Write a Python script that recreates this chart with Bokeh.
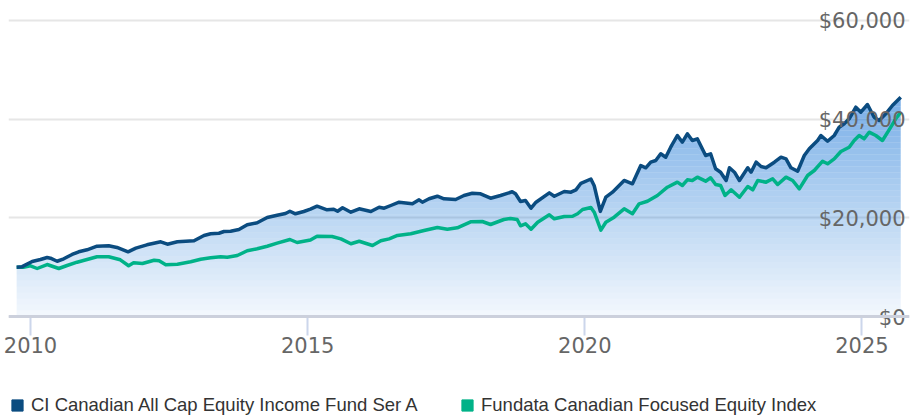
import numpy as np
from bokeh.plotting import figure
from bokeh.layouts import column
from bokeh.models import (ColumnDataSource, FixedTicker, Grid, Legend, LegendItem, Span)
from bokeh.core.properties import value
from bokeh.embed import file_html
from bokeh.resources import INLINE

# ---------------- data ----------------
fund_name = "CI Canadian All Cap Equity Income Fund Ser A"
index_name = "Fundata Canadian Focused Equity Index"

fund_t = [2009.75, 2009.85, 2010.03, 2010.18, 2010.30, 2010.36, 2010.48, 2010.60, 2010.75, 2010.87,
          2011.02, 2011.20, 2011.41, 2011.56, 2011.76, 2011.90, 2012.10, 2012.35, 2012.47, 2012.65,
          2012.95, 2013.13, 2013.25, 2013.40, 2013.49, 2013.61, 2013.76, 2013.91, 2014.09, 2014.27,
          2014.45, 2014.60, 2014.68, 2014.78, 2014.93, 2015.05, 2015.17, 2015.35, 2015.47, 2015.54,
          2015.63, 2015.78, 2015.93, 2016.14, 2016.29, 2016.38, 2016.50, 2016.65, 2016.89, 2017.01,
          2017.07, 2017.19, 2017.34, 2017.46, 2017.67, 2017.82, 2017.97, 2018.12, 2018.30, 2018.48,
          2018.69, 2018.75, 2018.84, 2018.93, 2019.03, 2019.12, 2019.36, 2019.45, 2019.63, 2019.75,
          2019.84, 2019.93, 2020.11, 2020.17, 2020.28, 2020.38, 2020.50, 2020.71, 2020.86, 2021.01,
          2021.10, 2021.19, 2021.28, 2021.37, 2021.46, 2021.55, 2021.67, 2021.76, 2021.85, 2021.94,
          2022.03, 2022.18, 2022.27, 2022.36, 2022.45, 2022.55, 2022.61, 2022.70, 2022.79, 2022.94,
          2023.00, 2023.09, 2023.18, 2023.27, 2023.42, 2023.54, 2023.63, 2023.72, 2023.84, 2023.96,
          2024.05, 2024.20, 2024.26, 2024.38, 2024.50, 2024.59, 2024.68, 2024.77, 2024.89, 2024.98,
          2025.10, 2025.22, 2025.31, 2025.43, 2025.55, 2025.70]
fund_v = [10000, 10100, 11150, 11550, 11960, 11820, 11200, 11700, 12570, 13110,
          13520, 14250, 14330, 13990, 13110, 13850, 14530, 15140, 14660, 15140,
          15340, 16420, 16760, 16880, 17230, 17290, 17630, 18590, 18990, 20070,
          20530, 20880, 21340, 20820, 21280, 21750, 22360, 21630, 21750, 21340,
          22030, 21140, 21830, 21280, 22160, 21950, 22500, 23170, 22840, 23650,
          23170, 23860, 24380, 23860, 23720, 24530, 24990, 24870, 23980, 24530,
          25280, 24870, 23310, 23510, 21950, 23170, 25070, 24380, 25340, 25200,
          25680, 27000, 27870, 26500, 21300, 24180, 25200, 27570, 26900, 30610,
          30140, 31280, 31620, 32980, 32290, 34320, 36690, 35330, 37030, 35680,
          36020, 32630, 32980, 29940, 29250, 27570, 30140, 29250, 27570, 30140,
          29250, 31280, 30410, 30140, 31280, 32290, 31960, 30140, 29450, 32630,
          33990, 35680, 36690, 35530, 36690, 38370, 39060, 40070, 42430, 41410,
          42970, 40400, 39730, 41090, 42770, 44450]

index_t = [2009.75, 2009.87, 2010.00, 2010.12, 2010.30, 2010.51, 2010.66, 2010.84, 2011.02, 2011.20,
           2011.41, 2011.62, 2011.77, 2011.86, 2012.02, 2012.23, 2012.32, 2012.44, 2012.65, 2012.89,
           2013.07, 2013.25, 2013.43, 2013.55, 2013.73, 2013.91, 2014.09, 2014.27, 2014.45, 2014.68,
           2014.81, 2015.05, 2015.17, 2015.44, 2015.60, 2015.78, 2015.93, 2016.17, 2016.32, 2016.47,
           2016.62, 2016.86, 2017.10, 2017.34, 2017.52, 2017.70, 2017.94, 2018.15, 2018.30, 2018.54,
           2018.66, 2018.78, 2018.84, 2018.93, 2019.03, 2019.15, 2019.36, 2019.45, 2019.63, 2019.78,
           2019.87, 2019.96, 2020.11, 2020.17, 2020.29, 2020.38, 2020.53, 2020.71, 2020.86, 2020.98,
           2021.13, 2021.31, 2021.49, 2021.67, 2021.76, 2021.85, 2021.94, 2022.03, 2022.18, 2022.27,
           2022.36, 2022.45, 2022.53, 2022.64, 2022.79, 2022.94, 2023.03, 2023.12, 2023.27, 2023.39,
           2023.48, 2023.63, 2023.75, 2023.87, 2024.02, 2024.14, 2024.29, 2024.38, 2024.50, 2024.62,
           2024.77, 2024.86, 2024.95, 2025.04, 2025.13, 2025.25, 2025.37, 2025.49, 2025.61, 2025.70]
index_v = [10000, 10000, 10280, 9730, 10540, 9730, 10340, 11010, 11550, 12100,
           12100, 11490, 10280, 10880, 10740, 11410, 11280, 10480, 10600, 11090,
           11610, 11890, 12100, 12030, 12360, 13320, 13720, 14250, 14860, 15610,
           15000, 15500, 16280, 16220, 15740, 14740, 15260, 14390, 15340, 15740,
           16420, 16760, 17430, 18040, 17700, 17980, 19190, 19260, 18650, 19660,
           19870, 19660, 18390, 18790, 17700, 19110, 20620, 19800, 20270, 20330,
           20820, 21700, 22100, 21140, 17500, 19110, 20130, 21830, 20820, 22840,
           23370, 24530, 26210, 27230, 26550, 27710, 27570, 28240, 27430, 28110,
           26760, 26550, 24530, 25680, 24180, 26350, 25680, 27570, 27230, 27910,
           26760, 28240, 27570, 25880, 28580, 29590, 31480, 30950, 31960, 33450,
           34320, 35680, 36690, 36020, 37360, 36690, 35680, 37840, 40070, 41410]

x_ticks = [2010, 2015, 2020, 2025]
y_ticks = [0, 20000, 40000, 60000]
y_labels = ["$0", "$20,000", "$40,000", "$60,000"]

# ---------------- styling ----------------
FUND_COLOR = "#0b4c80"
INDEX_COLOR = "#00b288"
AREA_BASE = "#1e78d7"
AXIS_FONT = "DejaVu Sans"
AXIS_SIZE = "21px"

Y0, Y1 = -2432, 62432
FRAME_H = 320

p = figure(width=918, height=370, output_backend="svg", toolbar_location=None,
           x_range=(2009.603, 2025.858), y_range=(Y0, Y1),
           y_axis_location=None, x_axis_location="below")
p.min_border_left = 8
p.min_border_right = 9
p.min_border_top = 8
p.min_border_bottom = 42
p.outline_line_color = None
p.background_fill_color = "white"
p.border_fill_color = "white"
for g in p.grid:
    g.visible = False

p.add_layout(Grid(dimension=1, ticker=FixedTicker(ticks=y_ticks),
                  grid_line_color="#e6e6e6", grid_line_width=2))

ax = p.xaxis[0]
ax.ticker = FixedTicker(ticks=x_ticks)
ax.axis_line_color = None
ax.major_tick_line_color = "#ccd6eb"
ax.major_tick_line_width = 2
ax.major_tick_in = 12
ax.major_tick_out = 7
ax.minor_tick_line_color = None
ax.major_label_standoff = 1
ax.major_label_text_font = AXIS_FONT
ax.major_label_text_font_size = AXIS_SIZE
ax.major_label_text_color = "#666666"

# vertical gradient under the fund line: non-overlapping translucent bands
fv = np.array(fund_v, dtype=float)
vmax = fv.max()
step = 6 * (Y1 - Y0) / FRAME_H          # band height of 6 screen pixels, in data units
levels = np.arange(0, vmax + step, step)
a_bottom, a_top = 0.05, 0.60
for lo in levels:
    hi = lo + step
    mid = min(lo + step / 2, vmax)
    alpha = a_bottom + (a_top - a_bottom) * mid / vmax
    y1 = np.minimum(fv, lo)
    y2 = np.minimum(fv, hi)
    src = ColumnDataSource(dict(x=fund_t, y1=y1, y2=y2))
    p.varea(x="x", y1="y1", y2="y2", source=src, fill_color=AREA_BASE, fill_alpha=alpha)

# x axis baseline at zero
p.add_layout(Span(location=0, dimension="width", line_color="#ccd0dc", line_width=3))

p.line(index_t, index_v, line_color=INDEX_COLOR, line_width=3.5, line_join="round")
p.line(fund_t, fund_v, line_color=FUND_COLOR, line_width=3.5, line_join="round")

# y tick labels inside the plot, right aligned
lab_src = ColumnDataSource(dict(x=[p.x_range.end] * len(y_ticks), y=y_ticks, t=y_labels))
p.text(x="x", y="y", text="t", source=lab_src, text_align="right", text_baseline="middle",
       x_offset=-4, y_offset=1, text_font=value(AXIS_FONT), text_font_size=AXIS_SIZE,
       text_color="#666666")

# ---------------- legend strip ----------------
lg = figure(width=918, height=46, output_backend="svg", toolbar_location=None,
            x_range=(0, 1), y_range=(0, 1), x_axis_location=None, y_axis_location=None,
            min_border=0)
lg.outline_line_color = None
for g in lg.grid:
    g.visible = False
# marker renderers kept outside the visible range; only their legend swatches show
r_fund = lg.quad(left=[-3], right=[-2], top=[-2], bottom=[-3],
                 fill_color=FUND_COLOR, line_color=FUND_COLOR)
r_index = lg.quad(left=[-3], right=[-2], top=[-2], bottom=[-3],
                  fill_color=INDEX_COLOR, line_color=INDEX_COLOR)

for rend, name, xloc in [(r_fund, fund_name, 2), (r_index, index_name, 452)]:
    leg = Legend(items=[LegendItem(label=name, renderers=[rend])], location=(xloc, 0),
                 orientation="horizontal", glyph_width=14, glyph_height=14, label_standoff=7,
                 padding=0, margin=0, border_line_alpha=0, background_fill_alpha=0,
                 label_text_font="Liberation Sans", label_text_font_size="18.5px",
                 label_text_color="#333333", label_height=22)
    lg.add_layout(leg, "center")

open("out.html", "w").write(file_html(column(p, lg, spacing=0), INLINE))
